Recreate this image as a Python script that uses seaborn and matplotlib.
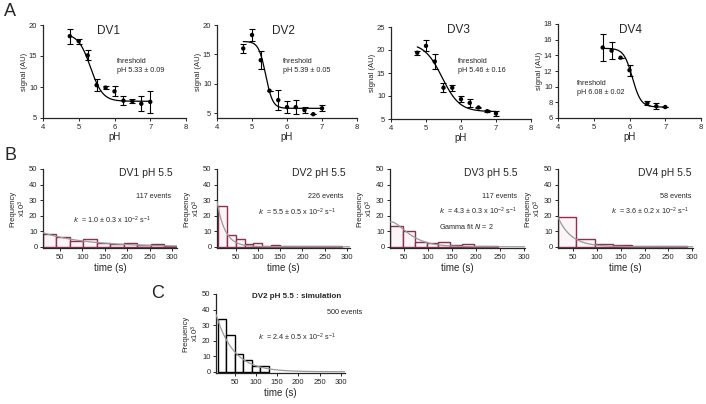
import numpy as np
import matplotlib
matplotlib.use("Agg")
import matplotlib.pyplot as plt
import seaborn as sns

sns.set_style("ticks")
plt.rcParams['font.family'] = ['Liberation Sans', 'DejaVu Sans']
plt.rcParams['mathtext.default'] = 'regular'

# ---------------- Panel A data ----------------
ph_dv1 = [4.75, 5.0, 5.25, 5.5, 5.75, 6.0, 6.25, 6.5, 6.75, 7.0]
sig_dv1 = [18.2, 17.4, 15.1, 10.3, 9.9, 9.3, 7.8, 7.7, 7.3, 7.6]
err_dv1 = [1.2, 0.4, 0.8, 1.0, 0.2, 0.8, 0.7, 0.3, 1.2, 1.8]

ph_dv2 = [4.75, 5.0, 5.25, 5.5, 5.75, 6.0, 6.25, 6.5, 6.75, 7.0]
sig_dv2 = [16.0, 18.3, 14.0, 8.8, 7.2, 6.0, 6.0, 5.5, 4.8, 5.8]
err_dv2 = [0.8, 1.0, 1.5, 0.0, 1.7, 1.0, 1.2, 0.5, 0.0, 0.5]

ph_dv3 = [4.75, 5.0, 5.25, 5.5, 5.75, 6.0, 6.25, 6.5, 6.75, 7.0]
sig_dv3 = [19.4, 20.9, 17.5, 11.8, 11.8, 9.3, 8.5, 7.5, 6.7, 6.2]
err_dv3 = [0.4, 1.2, 1.7, 1.0, 0.7, 0.6, 0.8, 0.2, 0.2, 0.5]

ph_dv4 = [5.25, 5.5, 5.75, 6.0, 6.5, 6.75, 7.0]
sig_dv4 = [15.0, 14.6, 13.7, 12.1, 7.9, 7.5, 7.4]
err_dv4 = [1.7, 1.1, 0.0, 0.7, 0.3, 0.4, 0.0]

# sigmoid fit parameters: top, bottom, pH50, slope
fit_dv1 = (18.6, 7.7, 5.33, 0.17)
fit_dv2 = (17.2, 5.8, 5.39, 0.10)
fit_dv3 = (21.5, 6.6, 5.46, 0.25)
fit_dv4 = (14.9, 7.4, 6.08, 0.12)

thr_labels = ["threshold\npH 5.33 ± 0.09", "threshold\npH 5.39 ± 0.05",
              "threshold\npH 5.46 ± 0.16", "threshold\npH 6.08 ± 0.02"]
titles_a = ["DV1", "DV2", "DV3", "DV4"]

# ---------------- Panel B / C data ----------------
edges_b1 = [12, 42, 72, 102, 132, 162, 192, 222, 252, 282, 312]
freq_b1 = [8.5, 6.0, 4.0, 5.0, 2.5, 2.0, 2.5, 1.0, 1.5, 0.8]

edges_b2 = [10, 30, 50, 70, 90, 110, 130, 150, 170, 190, 210, 230, 250, 270, 290]
freq_b2 = [26.5, 7.5, 5.0, 2.0, 2.5, 0.8, 1.0, 0.5, 0.4, 0.3, 0.3, 0.2, 0.2, 0.2]

edges_b3 = [20, 48, 72, 97, 121, 145, 170, 195, 220, 245]
freq_b3 = [13.5, 10.0, 3.0, 2.5, 3.0, 1.0, 1.5, 0.5, 0.2]

edges_b4 = [18, 56, 95, 134, 173, 212, 251, 290]
freq_b4 = [19.0, 5.0, 1.5, 1.0, 0.4, 0.3, 0.2]

edges_c = [10, 30, 50, 70, 90, 110, 130]
freq_c = [34.0, 23.5, 11.5, 7.5, 4.0, 4.0]

titles_b = ["DV1 pH 5.5", "DV2 pH 5.5", "DV3 pH 5.5", "DV4 pH 5.5"]
events_b = ["117 events", "226 events", "117 events", "58 events"]
k_labels = [r"$\it{k}$  = 1.0 ± 0.3 x 10$^{-2}$ s$^{-1}$",
            r"$\it{k}$  = 5.5 ± 0.5 x 10$^{-2}$ s$^{-1}$",
            r"$\it{k}$  = 4.3 ± 0.3 x 10$^{-2}$ s$^{-1}$",
            r"$\it{k}$  = 3.6 ± 0.2 x 10$^{-2}$ s$^{-1}$"]
k_c = r"$\it{k}$  = 2.4 ± 0.5 x 10$^{-2}$ s$^{-1}$"

# fit parameters (amplitude, start, rate)
expfit_b1 = (9.0, 12, 0.010)
expfit_b2 = (26.0, 10, 0.055)
gammafit_b3 = (1.87, 0.043)
expfit_b4 = (19.0, 18, 0.036)
expfit_c = (33.5, 10, 0.024)

W, H = 706, 404
fig = plt.figure(figsize=(W / 100, H / 100), dpi=100)


def add_ax(l, r, t, b):
    return fig.add_axes([l / W, 1 - b / H, (r - l) / W, (b - t) / H])


def ftext(x, y, s, **kw):
    fig.text(x / W, 1 - y / H, s, **kw)


def style(ax):
    sns.despine(ax=ax)
    ax.tick_params(labelsize=5.5, length=2.5, width=0.7, pad=1.5)
    for sp in ax.spines.values():
        sp.set_linewidth(0.9)


# ---------------- Panel A ----------------
a_boxes = [(43, 186, 25, 118), (217, 357, 25, 118), (391, 531, 27, 119), (558, 701, 24, 118)]
a_ylims = [(5, 20), (4.15, 20), (5, 25), (6, 18)]
a_yticks = [[5, 10, 15, 20], [5, 10, 15, 20], [5, 10, 15, 20, 25], [6, 8, 10, 12, 14, 16, 18]]
a_data = [(ph_dv1, sig_dv1, err_dv1, fit_dv1), (ph_dv2, sig_dv2, err_dv2, fit_dv2),
          (ph_dv3, sig_dv3, err_dv3, fit_dv3), (ph_dv4, sig_dv4, err_dv4, fit_dv4)]
title_pos = [(108, 31), (283, 31), (458, 30), (630, 30)]
thr_pos = [(117, 66), (283, 66), (458, 66), (577, 88)]

for i in range(4):
    ax = add_ax(*a_boxes[i])
    ph, sig, err, fp = a_data[i]
    top, bot, x50, sl = fp
    xs = np.linspace(min(ph), max(ph), 200)
    ys = bot + (top - bot) / (1 + np.exp((xs - x50) / sl))
    sns.lineplot(x=xs, y=ys, ax=ax, color='black', lw=0.9)
    ax.errorbar(ph, sig, yerr=err, fmt='none', ecolor='black', elinewidth=0.8,
                capsize=2, capthick=0.8)
    sns.scatterplot(x=ph, y=sig, ax=ax, color='black', s=10, edgecolor='none', zorder=3)
    ax.set_xlim(4, 8)
    ax.set_ylim(*a_ylims[i])
    ax.set_xticks([4, 5, 6, 7, 8])
    ax.set_yticks(a_yticks[i])
    ax.set_xlabel("pH", fontsize=7, labelpad=1)
    ax.set_ylabel("signal (AU)", fontsize=5.5, labelpad=1)
    style(ax)
    ftext(*title_pos[i], titles_a[i], fontsize=8.5, ha='center', va='center')
    ftext(*thr_pos[i], thr_labels[i], fontsize=5.2, ha='left',
          va='center', linespacing=1.3)

ftext(10, 12, "A", fontsize=13, ha='center', va='center')
ftext(10, 155, "B", fontsize=13, ha='center', va='center')
ftext(158, 293, "C", fontsize=13, ha='center', va='center')

# ---------------- Panel B ----------------
maroon = '#8e2f52'
b_boxes = [(43, 177, 169, 248), (217, 350, 169, 248), (390, 525, 169, 248), (558, 693, 169, 248)]
b_xlims = [(12, 311), (8, 307), (21, 302), (18, 302)]
b_data = [(edges_b1, freq_b1), (edges_b2, freq_b2), (edges_b3, freq_b3), (edges_b4, freq_b4)]
b_title = [(173, 173), (346, 173), (517, 173), (691, 173)]
b_events = [(171, 197), (343, 197), (517, 196), (691, 196)]
b_k = [(73, 220), (258, 212), (439, 211), (611, 211)]

for i in range(4):
    ax = add_ax(*b_boxes[i])
    edges, freq = b_data[i]
    centers = [(edges[j] + edges[j + 1]) / 2 for j in range(len(freq))]
    xlo, xhi = b_xlims[i]
    xs = np.linspace(xlo, xhi, 300)
    if i == 0:
        a, t0, k = expfit_b1
        ys = a * np.exp(-k * (xs - t0))
    elif i == 1:
        a, t0, k = expfit_b2
        ys = a * np.exp(-k * (xs - t0))
    elif i == 2:
        a, k = gammafit_b3
        ys = a * xs * np.exp(-k * xs)
    else:
        a, t0, k = expfit_b4
        ys = a * np.exp(-k * (xs - t0))
    sns.histplot(x=centers, weights=freq, bins=edges, ax=ax, stat='count',
                 color='#fcf4f7', edgecolor=maroon, linewidth=1.0, alpha=1)
    sns.lineplot(x=xs, y=ys, ax=ax, color='#9a9a9a', lw=0.9, zorder=3)
    ax.set_xlim(xlo, xhi)
    ax.set_ylim(-0.8, 50)
    ax.set_xticks([50, 100, 150, 200, 250, 300])
    ax.set_yticks([0, 10, 20, 30, 40, 50])
    ax.set_xlabel("time (s)", fontsize=7, labelpad=2)
    ax.set_ylabel("Frequency\nx10$^3$", fontsize=5.5, labelpad=1, linespacing=1.0)
    style(ax)
    ftext(*b_title[i], titles_b[i], fontsize=7.5, ha='right', va='center')
    ftext(*b_events[i], events_b[i], fontsize=5.2, ha='right', va='center')
    ftext(*b_k[i], k_labels[i], fontsize=5.2, ha='left', va='center')
    if i == 2:
        ftext(439, 226, r"Gamma fit $\it{N}$ = 2", fontsize=5.2, ha='left', va='center')

# ---------------- Panel C ----------------
ax = add_ax(216, 345, 294, 373)
centers = [(edges_c[j] + edges_c[j + 1]) / 2 for j in range(len(freq_c))]
sns.histplot(x=centers, weights=freq_c, bins=edges_c, ax=ax, stat='count',
             color='white', edgecolor='black', linewidth=1.0, alpha=1)
a, t0, k = expfit_c
xs = np.linspace(6, 310, 300)
sns.lineplot(x=xs, y=a * np.exp(-k * (xs - t0)), ax=ax, color='#9a9a9a', lw=0.9, zorder=3)
ax.set_xlim(6, 310)
ax.set_ylim(-0.8, 50)
ax.set_xticks([50, 100, 150, 200, 250, 300])
ax.set_yticks([0, 10, 20, 30, 40, 50])
ax.set_xlabel("time (s)", fontsize=7, labelpad=2)
ax.set_ylabel("Frequency\nx10$^3$", fontsize=5.5, labelpad=1, linespacing=1.0)
style(ax)
ftext(252, 297, "DV2 pH 5.5 : simulation", fontsize=5.8, ha='left', va='center',
      fontweight='bold')
ftext(362, 313, "500 events", fontsize=5.2, ha='right', va='center')
ftext(258, 337, k_c, fontsize=5.2, ha='left', va='center')

fig.savefig("out.png", dpi=100)
